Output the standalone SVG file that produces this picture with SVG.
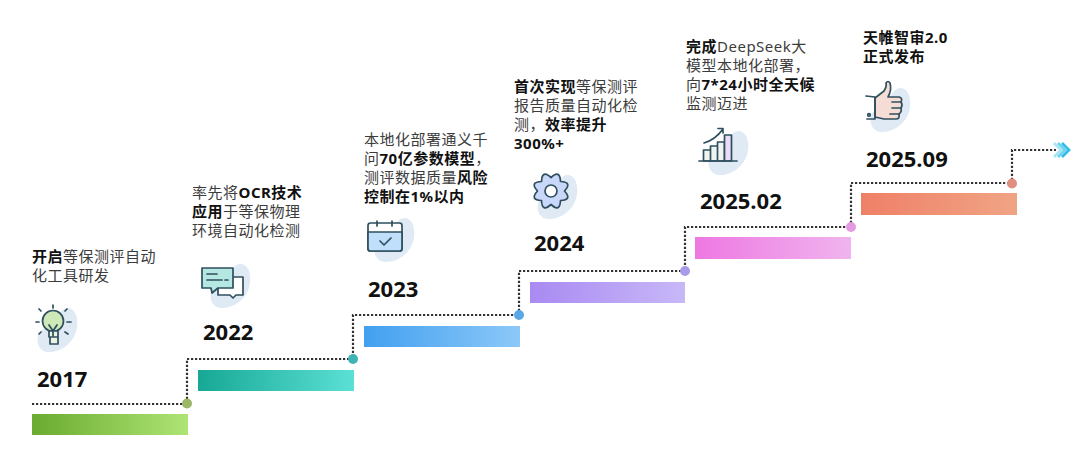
<svg xmlns="http://www.w3.org/2000/svg" width="1080" height="472" viewBox="0 0 1080 472">
<style>
text{font-family:"Noto Sans","Noto Sans CJK SC",sans-serif}
.d{font-size:15px;letter-spacing:.5px;fill:#3c3c3c}
.b{font-weight:700;fill:#111}
.y{font-family:"Open Sans","Noto Sans",sans-serif;font-size:22px;font-weight:700;fill:#111}
.blob{fill:#dfeaf5}
.ic{stroke:#2f4f5f;stroke-width:1.700;stroke-linecap:round;stroke-linejoin:round}
.n{fill:none}
.link{fill:none;stroke:#333;stroke-width:2.200;stroke-dasharray:2.200 1.800}
</style>
<defs>
<linearGradient id="g1"><stop offset="0" stop-color="#6aab30"/><stop offset="1" stop-color="#aee474"/></linearGradient>
<linearGradient id="g2"><stop offset="0" stop-color="#17a895"/><stop offset="1" stop-color="#5be0d5"/></linearGradient>
<linearGradient id="g3"><stop offset="0" stop-color="#42a0f0"/><stop offset="1" stop-color="#8cc8f8"/></linearGradient>
<linearGradient id="g4"><stop offset="0" stop-color="#a98af2"/><stop offset="1" stop-color="#c8b8f8"/></linearGradient>
<linearGradient id="g5"><stop offset="0" stop-color="#ee78e2"/><stop offset="1" stop-color="#f0b4ee"/></linearGradient>
<linearGradient id="g6"><stop offset="0" stop-color="#ef8068"/><stop offset="1" stop-color="#f0a484"/></linearGradient>
<path id="bl" d="M32 0C40 2 42 14 39 24C35 36 24 44 12 44C3 44-1 36 1 28C3 20 12 20 18 12C22 6 25-1 32 0Z"/>
</defs>

<g id="connectors">
<path class="link" d="M32 404H187V359H353V315H519V271H685V227H851V183H1012V150H1056"/>
<circle cx="187" cy="403.500" r="5" fill="#9cb866"/>
<circle cx="353" cy="359" r="5" fill="#3fb4b4"/>
<circle cx="519" cy="315" r="5" fill="#5aa7e6"/>
<circle cx="685" cy="271" r="5" fill="#a89be8"/>
<circle cx="851" cy="227" r="5" fill="#e39ae0"/>
<circle cx="1012" cy="183.500" r="5" fill="#e08f7e"/>
<g fill="none" stroke-width="2.800">
<path d="M1054 143L1061 150L1054 157" stroke="#a8e6f5"/>
<path d="M1058 143L1065 150L1058 157" stroke="#6fd4ef"/>
<path d="M1062 143L1069 150L1062 157" stroke="#35bde6"/>
</g>
</g>

<g id="node-2017">
<rect x="32" y="414" width="156" height="21" fill="url(#g1)"/>
<text class="y" x="37" y="387">2017</text>
<text class="d" x="32" y="262"><tspan class="b">开启</tspan>等保测评自动</text>
<text class="d" x="32" y="281">化工具研发</text>
<use href="#bl" class="blob" x="37" y="308"/>
<circle class="ic" cx="53" cy="321" r="10.500" fill="#cfe8b8"/>
<path class="ic" fill="#eaf4e0" d="M49 331H58V337H49Z M50 337H58V344H50Z"/>
<path class="ic n" d="M49 325L53 331L57 325M53 331V336"/>
<path class="ic n" stroke-width="1.300" d="M53 305V308M41 311L39 309M65 311L67 309M36 322H39M67 322H71M41 332L39 334M65 332L68 334"/>
</g>

<g id="node-2022">
<rect x="198" y="370" width="156" height="21" fill="url(#g2)"/>
<text class="y" x="203" y="340">2022</text>
<text class="d" x="192" y="198">率先将<tspan class="b">OCR技术</tspan></text>
<text class="d" x="192" y="217"><tspan class="b">应用</tspan>于等保物理</text>
<text class="d" x="192" y="236">环境自动化检测</text>
<use href="#bl" class="blob" x="210" y="264"/>
<path class="ic" fill="#fff" d="M218 277H243V295H236L233 298L230 295H218Z"/>
<path class="ic" fill="#b5e8e2" d="M202 268H233V288H218L212 293L211 288H202Z"/>
<path class="ic n" d="M207 274H217M207 280H222M225 280H228"/>
</g>

<g id="node-2023">
<rect x="364" y="326" width="156" height="21" fill="url(#g3)"/>
<text class="y" x="368" y="297">2023</text>
<text class="d" x="364" y="145">本地化部署通义千</text>
<text class="d" x="364" y="164">问<tspan class="b">70亿参数模型</tspan>，</text>
<text class="d" x="364" y="183">测评数据质量<tspan class="b">风险</tspan></text>
<text class="d" x="364" y="202"><tspan class="b">控制在1%以内</tspan></text>
<use href="#bl" class="blob" x="374" y="218"/>
<rect class="ic" x="368" y="223" width="34" height="28" rx="2.500" fill="#fff"/>
<path class="ic" fill="#bfdffb" d="M368 232H402V248.500Q402 251 399.500 251H370.500Q368 251 368 248.500Z"/>
<path class="ic n" d="M377 221V226M392 221V226M380 241L384 245L391 238"/>
</g>

<g id="node-2024">
<rect x="530" y="282" width="155" height="21" fill="url(#g4)"/>
<text class="y" x="534" y="251">2024</text>
<text class="d" x="514" y="92"><tspan class="b">首次实现</tspan>等保测评</text>
<text class="d" x="514" y="111">报告质量自动化检</text>
<text class="d" x="514" y="130">测，<tspan class="b">效率提升</tspan></text>
<text class="d" x="514" y="149"><tspan class="b">300%+</tspan></text>
<use href="#bl" class="blob" x="537" y="175"/>
<path class="ic" fill="#c9d7fb" transform="translate(551 191)" d="M13.500 0Q21.700 9 9.500 9.500Q9 21.700 0 13.500Q-9 21.700-9.500 9.500Q-21.700 9-13.500 0Q-21.700-9-9.500-9.500Q-9-21.700 0-13.500Q9-21.700 9.500-9.500Q21.700-9 13.500 0Z"/>
<circle class="ic" cx="551" cy="191" r="6" fill="#fff"/>
</g>

<g id="node-2025-02">
<rect x="695" y="237" width="156" height="22" fill="url(#g5)"/>
<text class="y" x="700" y="209">2025.02</text>
<text class="d" x="686" y="52"><tspan class="b">完成</tspan>DeepSeek大</text>
<text class="d" x="686" y="71">模型本地化部署，</text>
<text class="d" x="686" y="90">向<tspan class="b">7*24小时全天候</tspan></text>
<text class="d" x="686" y="109">监测迈进</text>
<use href="#bl" class="blob" x="708" y="131"/>
<path class="ic" fill="#eef5f0" d="M703.500 150H710.500V161H703.500Z M710.500 146H717.500V161H710.500Z M717.500 142H724.500V161H717.500Z"/>
<path class="ic" fill="#eadcf8" d="M724.500 135H731.500V161H724.500Z"/>
<path class="ic n" d="M699 161H737M704 143Q715 140 723 129M718 128.500L723 128.500L723 133"/>
</g>

<g id="node-2025-09">
<rect x="861" y="193" width="156" height="22" fill="url(#g6)"/>
<text class="y" x="866" y="167">2025.09</text>
<text class="d" x="863" y="43"><tspan class="b">天帷智审2.0</tspan></text>
<text class="d" x="863" y="62"><tspan class="b">正式发布</tspan></text>
<use href="#bl" class="blob" x="870" y="88"/>
<path class="ic" fill="#f5dcd5" d="M875 98L884 91Q887 86 886 83Q888 80 890 83Q892 90 888 97H899Q903 98 901 102Q903 105 901 108Q902 112 899 114Q900 119 896 119H884L875 117Z"/>
<path class="ic n" d="M866 96L875 97V119H867M892 102H901M892 108H901M890 114H899"/>
<circle class="ic n" cx="869" cy="115" r="1.300"/>
</g>
</svg>
